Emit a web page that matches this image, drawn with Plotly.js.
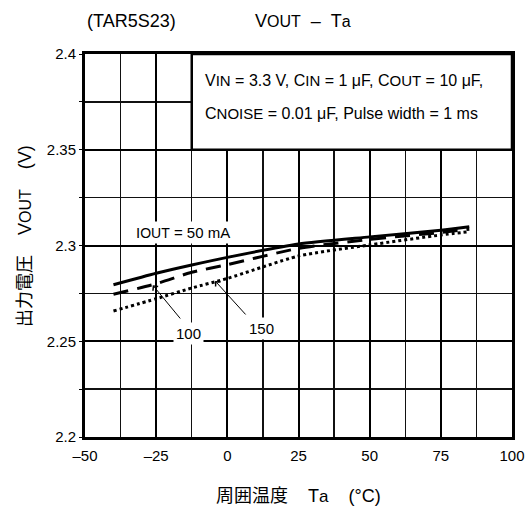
<!DOCTYPE html>
<html>
<head>
<meta charset="utf-8">
<script src="https://cdn.plot.ly/plotly-3.0.1.min.js"></script>
<style>html,body{margin:0;padding:0;background:#fff;}#chart{width:530px;height:506px;}</style>
</head>
<body>
<div id="chart"></div>
<script>
// Data
var temps = [-40, -25, -12.5, 0, 25, 50, 75, 85];
var v50  = [2.2795, 2.2855, 2.2898, 2.2938, 2.3008, 2.3045, 2.3080, 2.3098];
var v100 = [2.2745, 2.2800, 2.2860, 2.2900, 2.2985, 2.3032, 2.3068, 2.3085];
var v150 = [2.2658, 2.2722, 2.2778, 2.2828, 2.2945, 2.3003, 2.3055, 2.3072];
var xTickVals = [-50, -25, 0, 25, 50, 75, 100];
var xTickText = ['\u201350', '\u201325', '0', '25', '50', '75', '100'];
var yTickVals = [2.2, 2.25, 2.3, 2.35, 2.4];
var yTickText = ['2.2', '2.25', '2.3', '2.35', '2.4'];

var FONT = 'Arial, "Liberation Sans", Helvetica, sans-serif';
var CJKF = "'Noto Sans CJK JP', 'Noto Sans CJK SC', sans-serif";
function sm(t, s) { return '<span style="font-size:' + s + 'px">' + t + '</span>'; }
function cjk(t) { return '<span style="font-family:' + CJKF + '">' + t + '</span>'; }
var NB = '\u00a0';
function gap(n) { var s = ''; for (var i = 0; i < n; i++) s += NB; return s; }

var traces = [
  {x: temps, y: v50, mode: 'lines', line: {color: '#000', width: 3, shape: 'spline', smoothing: 0.6}, hoverinfo: 'skip'},
  {x: temps, y: v100, mode: 'lines', line: {color: '#000', width: 3, dash: '15px,9px', shape: 'spline', smoothing: 0.6}, hoverinfo: 'skip'},
  {x: temps, y: v150, mode: 'lines', line: {color: '#000', width: 3, dash: '3px,3px', shape: 'spline', smoothing: 0.6}, hoverinfo: 'skip'}
];

var boxFont = {family: FONT, size: 16, color: '#000'};
var lblFont = {family: FONT, size: 15, color: '#000'};
var layout = {
  width: 530, height: 506,
  margin: {l: 85, r: 18, t: 54, b: 69},
  paper_bgcolor: '#fff', plot_bgcolor: '#fff',
  showlegend: false,
  font: {family: FONT, size: 15, color: '#000'},
  xaxis: {
    range: [-50, 100], tickmode: 'array', tickvals: xTickVals, ticktext: xTickText,
    showgrid: true, gridcolor: '#000', gridwidth: 2,
    minor: {dtick: 12.5, tick0: -50, showgrid: true, gridcolor: '#111', gridwidth: 1.4, ticks: ''},
    ticks: '', showline: true, linecolor: '#000', linewidth: 3, mirror: true, ticklabelstandoff: 3,
    zeroline: false, tickfont: {family: FONT, size: 15, color: '#000'}, fixedrange: true
  },
  yaxis: {
    range: [2.2, 2.4], tickmode: 'array', tickvals: yTickVals, ticktext: yTickText,
    showgrid: true, gridcolor: '#000', gridwidth: 2,
    minor: {dtick: 0.025, tick0: 2.2, showgrid: true, gridcolor: '#111', gridwidth: 1.4, ticks: 'outside', ticklen: 3, tickcolor: '#000', tickwidth: 1},
    ticks: 'outside', ticklen: 3, tickcolor: '#000', tickwidth: 1,
    showline: true, linecolor: '#000', linewidth: 3, mirror: true,
    zeroline: false, tickfont: {family: FONT, size: 15, color: '#000'}, fixedrange: true
  },
  shapes: [
    {type: 'rect', xref: 'x', yref: 'y', x0: -12.5, x1: 100, y0: 2.35, y1: 2.4,
     fillcolor: '#fff', line: {color: '#000', width: 2.5}, layer: 'above'}
  ],
  annotations: [
    // chart title
    {xref: 'paper', yref: 'paper', x: 0.0, y: 1.0, yshift: 33, xanchor: 'left', yanchor: 'middle', showarrow: false,
     text: '(TAR5S23)', font: {family: FONT, size: 18, color: '#000'}},
    {xref: 'paper', yref: 'paper', x: 0.394, y: 1.0, yshift: 33, xanchor: 'left', yanchor: 'middle', showarrow: false,
     text: 'V' + sm('OUT', 16) + gap(2) + '\u2013' + gap(2) + 'T' + sm('a', 16), font: {family: FONT, size: 18, color: '#000'}},
    // axis titles
    {xref: 'paper', yref: 'paper', x: -0.145, y: 0.525, xanchor: 'center', yanchor: 'middle', showarrow: false, textangle: -90,
     text: cjk('出力電圧') + gap(4) + 'V' + sm('OUT', 16) + gap(4) + '(V)',
     font: {family: FONT, size: 18, color: '#000'}},
    {xref: 'paper', yref: 'paper', x: 0.499, y: -0.148, xanchor: 'center', yanchor: 'middle', showarrow: false,
     text: cjk('周囲温度') + gap(4) + 'T' + sm('a', 17) + gap(4) + '(°C)',
     font: {family: FONT, size: 18, color: '#000'}},
    // condition box text
    {xref: 'x', yref: 'y', x: -8.5, y: 2.3862, xanchor: 'left', yanchor: 'middle', showarrow: false,
     text: 'V' + sm('IN', 15) + ' = 3.3 V, C' + sm('IN', 15) + ' = 1 μF, C' + sm('OUT', 15) + ' = 10 μF,', font: boxFont},
    {xref: 'x', yref: 'y', x: -8.5, y: 2.3688, xanchor: 'left', yanchor: 'middle', showarrow: false,
     text: 'C' + sm('NOISE', 15) + ' = 0.01 μF, Pulse width = 1 ms', font: boxFont},
    // series labels
    {xref: 'x', yref: 'y', x: -15.6, y: 2.3068, xanchor: 'center', yanchor: 'middle', showarrow: false,
     text: 'I' + sm('OUT', 14) + ' = 50 mA', font: lblFont, bgcolor: '#fff', borderpad: 2},
    {xref: 'x', yref: 'y', x: -13.8, y: 2.2543, xanchor: 'center', yanchor: 'middle', showarrow: false,
     text: '100', font: lblFont, bgcolor: '#fff', borderpad: 2},
    {xref: 'x', yref: 'y', x: 12.1, y: 2.2569, xanchor: 'center', yanchor: 'middle', showarrow: false,
     text: '150', font: lblFont, bgcolor: '#fff', borderpad: 2},
    // arrows
    {xref: 'x', yref: 'y', axref: 'x', ayref: 'y', x: -26.2, y: 2.2793, ax: -16.1, ay: 2.2611,
     text: '', showarrow: true, arrowhead: 4, arrowsize: 1.3, arrowwidth: 1, arrowcolor: '#000', standoff: 0},
    {xref: 'x', yref: 'y', axref: 'x', ayref: 'y', x: -4.3, y: 2.2815, ax: 6.9, ay: 2.2632,
     text: '', showarrow: true, arrowhead: 4, arrowsize: 1.3, arrowwidth: 1, arrowcolor: '#000', standoff: 0}
  ]
};

Plotly.newPlot('chart', traces, layout, {displayModeBar: false, staticPlot: true});
</script>
</body>
</html>
